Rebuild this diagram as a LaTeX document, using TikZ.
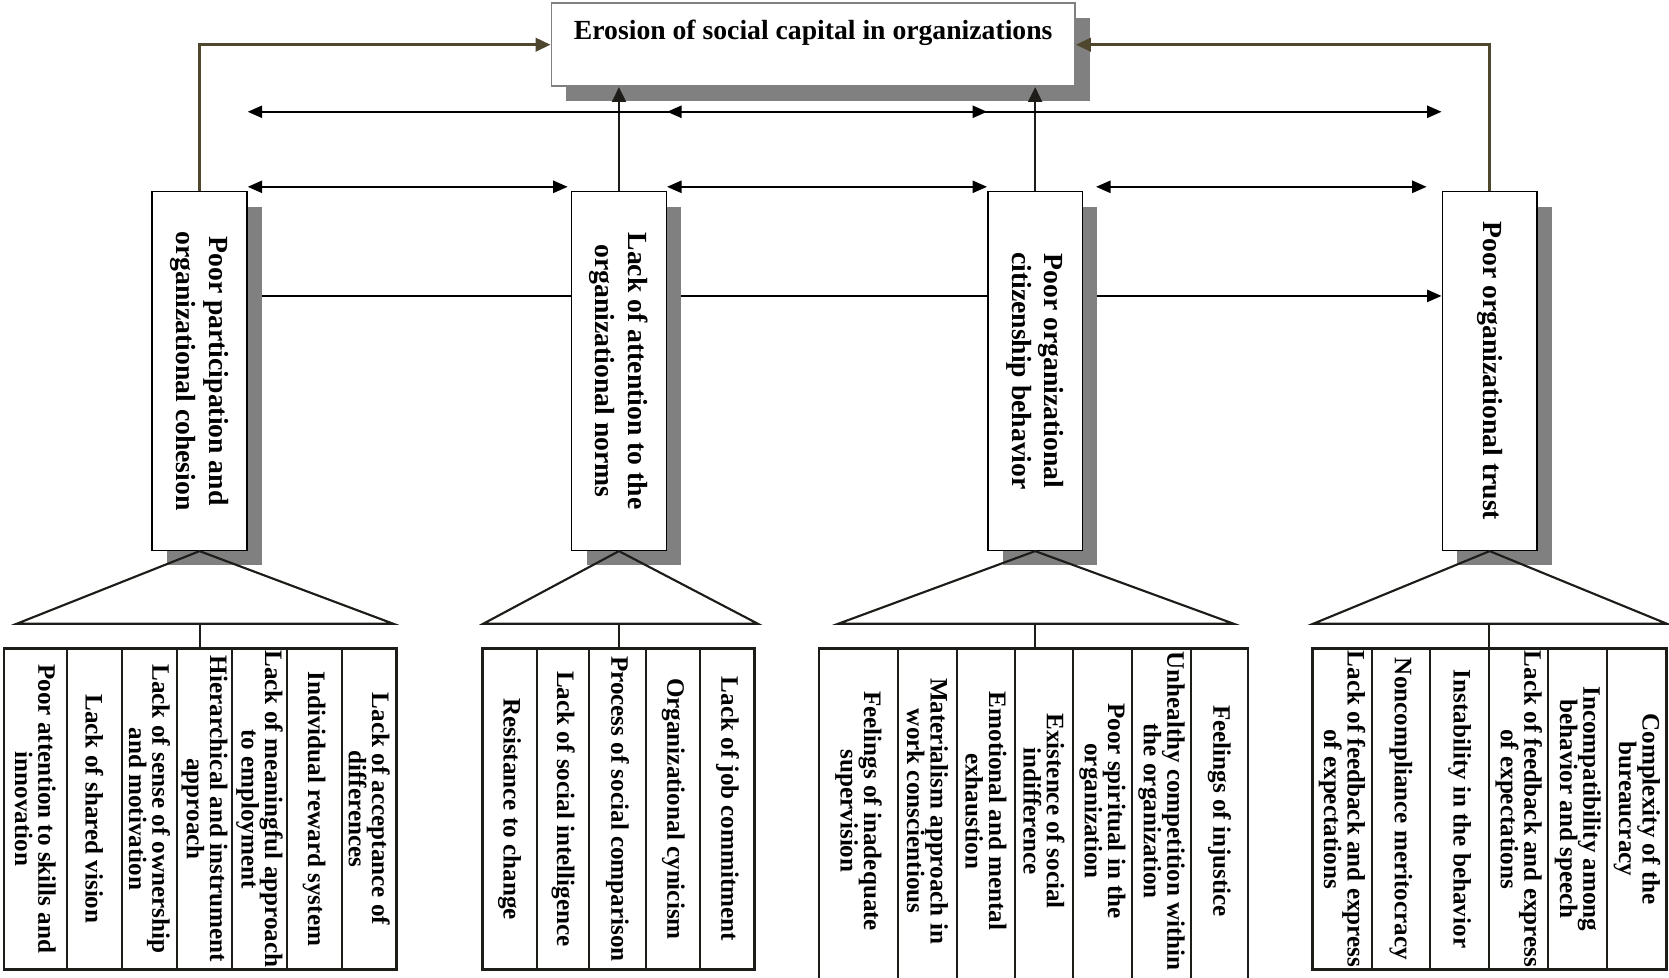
\documentclass[tikz,border=0pt]{standalone}
\usepackage{graphicx}
\usepackage{fontspec}
\setmainfont{Liberation Serif}
\usetikzlibrary{arrows.meta,shadows,backgrounds}
\definecolor{shadowgray}{RGB}{128,128,128}
\definecolor{topgray}{RGB}{128,128,128}
\definecolor{ink}{RGB}{30,28,25}
\definecolor{arrowolive}{RGB}{78,70,45}
\newcommand\vlines[1]{\rotatebox{-90}{\vbox{\lineskiplimit=-20pt\halign{\hfil##\hfil\cr#1\crcr}}}}
\begin{document}
\begin{tikzpicture}[x=0.5pt,y=-0.5pt,
  shadowed/.style={drop shadow={shadow xshift=7pt,shadow yshift=-7pt,fill=shadowgray,opacity=1}},
  topbox/.style={draw=topgray,line width=0.8pt,fill=white,inner xsep=0pt,inner ysep=0pt,minimum width=246pt,text height=17.25pt,text depth=21.75pt,font=\fontsize{13}{15}\selectfont\bfseries,shadowed},
  lvlbox/.style={draw=black,line width=0.75pt,fill=white,inner sep=0pt,minimum width=44.5pt,minimum height=168.5pt,font=\fontsize{13}{15.3}\selectfont\bfseries,shadowed},
  cell/.style={inner sep=0pt,font=\fontsize{11.8}{11}\selectfont\bfseries},
  tableline/.style={draw=ink,line width=1.25pt},
  colline/.style={draw=ink,line width=0.95pt},
  triline/.style={draw=ink,line width=1pt,line join=miter},
  arr/.style={-{Triangle[length=6.8pt,width=5.8pt]},line width=0.75pt,draw=black},
  darr/.style={{Triangle[length=6.8pt,width=5.8pt]}-{Triangle[length=6.8pt,width=5.8pt]},line width=0.75pt,draw=black},
  uparr/.style={-{Triangle[length=7pt,width=6.5pt]},line width=1.15pt,draw=ink},
  olivearr/.style={-{Triangle[length=7pt,width=6.3pt]},line width=1.25pt,draw=arrowolive}
]
\useasboundingbox (0,0) rectangle (1568,918);

% top box
\node[topbox] (top) at (764,42) {Erosion of social capital in organizations};

% level-2 boxes
\node[lvlbox] (box1) at (187.5,348.5) {\vlines{Poor participation and\cr organizational cohesion}};
\node[lvlbox] (box2) at (581.5,348.5) {\vlines{Lack of attention to the\cr organizational norms}};
\node[lvlbox] (box3) at (972.5,348.5) {\vlines{Poor organizational\cr citizenship behavior}};
\node[lvlbox] (box4) at (1399.5,348.5) {\vlines{Poor organizational trust}};

\coordinate (rowT) at (0,40);
\coordinate (rowA) at (0,105);
\coordinate (rowB) at (0,175.5);
\coordinate (rowC) at (0,278);

% long line behind boxes
\begin{scope}[on background layer]
\draw[arr] (box1.east |- rowC) -- (box4.west |- rowC);
\end{scope}

% arrows to the top box
\draw[olivearr] (box1.north) |- (top.west);
\draw[olivearr] (box4.north) |- (top.east);
\draw[uparr] (box2.north) -- (box2.north |- top.south);
\draw[uparr] (box3.north) -- (box3.north |- top.south);

% double arrows
\draw[darr] (box1.east |- rowA) -- (box3.west |- rowA);
\draw[darr] (box2.east |- rowA) -- (box4.west |- rowA);
\draw[darr] (box1.east |- rowB) -- ([xshift=-1.5pt]box2.west |- rowB);
\draw[darr] (box2.east |- rowB) -- (box3.west |- rowB);
\draw[darr] ([xshift=6pt]box3.east |- rowB) -- ([xshift=-7pt]box4.west |- rowB);

% triangles and stems
\draw[triline] (box1.south) -- (15.7,586) -- (369.5,586) -- cycle;
\draw[triline] (box2.south) -- (454,586) -- (712,586) -- cycle;
\draw[triline] (box3.south) -- (787.5,586) -- (1159,586) -- cycle;
\draw[triline] (box4.south) -- (1233.7,586) -- (1566,586) -- cycle;
\draw[triline] (187.5,586) -- (187.5,609);
\draw[triline] (581.5,586) -- (581.5,609);
\draw[triline] (972.5,586) -- (972.5,609);
\draw[triline] (1399.2,586) -- (1399.2,609);

% group 1 table
\draw[tableline] (3.8,609) rectangle (372.7,910.5);
\foreach \x in {62.6,114.9,166,218.3,269.3,321} \draw[colline] (\x,609) -- (\x,910.5);
\node[cell] (g1a) at (33.2,760) {\vlines{Poor attention to skills and\cr innovation}};
\node[cell] (g1b) at (88.75,760) {\vlines{Lack of shared vision}};
\node[cell] (g1c) at (140.45,760) {\vlines{Lack of sense of ownership\cr and motivation}};
\node[cell] (g1d) at (192.15,760) {\vlines{Hierarchical and instrument\cr approach}};
\node[cell] (g1e) at (243.8,760) {\vlines{Lack of meaningful approach\cr to employment}};
\node[cell] (g1f) at (295.15,760) {\vlines{Individual reward system}};
\node[cell] (g1g) at (346.85,760) {\vlines{Lack of acceptance of\cr differences}};

% group 2 table
\draw[tableline] (453,609) rectangle (709,910.5);
\foreach \x in {504.5,553.5,607,658} \draw[colline] (\x,609) -- (\x,910.5);
\node[cell] (g2a) at (478.75,760) {\vlines{Resistance to change}};
\node[cell] (g2b) at (529,760) {\vlines{Lack of social intelligence}};
\node[cell] (g2c) at (580.25,760) {\vlines{Process of social comparison}};
\node[cell] (g2d) at (632.5,760) {\vlines{Organizational cynicism}};
\node[cell] (g2e) at (683.5,760) {\vlines{Lack of job commitment}};

% group 3 table (open at the bottom edge)
\draw[tableline] (769.5,930) -- (769.5,609) -- (1172.5,609) -- (1172.5,930);
\foreach \x in {843.5,899,953.6,1008,1063.5,1119} \draw[colline] (\x,609) -- (\x,930);
\node[cell] (g3a) at (806.5,762) {\vlines{Feelings of inadequate\cr supervision}};
\node[cell] (g3b) at (871.25,762) {\vlines{Materialism approach in\cr work conscientious}};
\node[cell] (g3c) at (926.3,762) {\vlines{Emotional and mental\cr exhaustion}};
\node[cell] (g3d) at (980.8,762) {\vlines{Existence of social\cr indifference}};
\node[cell] (g3e) at (1035.75,762) {\vlines{Poor spiritual in the\cr organization}};
\node[cell] (g3f) at (1091.25,762) {\vlines{Unhealthy competition within\cr the organization}};
\node[cell] (g3g) at (1145.75,762) {\vlines{Feelings of injustice}};

% group 4 table
\draw[tableline] (1233,609) rectangle (1565.9,910.5);
\foreach \x in {1288.7,1343.5,1399.2,1454.6,1510} \draw[colline] (\x,609) -- (\x,910.5);
\node[cell] (g4a) at (1260.85,760) {\vlines{Lack of feedback and express\cr of expectations}};
\node[cell] (g4b) at (1316.1,760) {\vlines{Noncompliance meritocracy}};
\node[cell] (g4c) at (1371.35,760) {\vlines{Instability in the behavior}};
\node[cell] (g4d) at (1426.9,760) {\vlines{Lack of feedback and express\cr of expectations}};
\node[cell] (g4e) at (1482.3,760) {\vlines{Incompatibility among\cr behavior and speech}};
\node[cell] (g4f) at (1537.95,760) {\vlines{Complexity of the\cr bureaucracy}};
\end{tikzpicture}
\end{document}
